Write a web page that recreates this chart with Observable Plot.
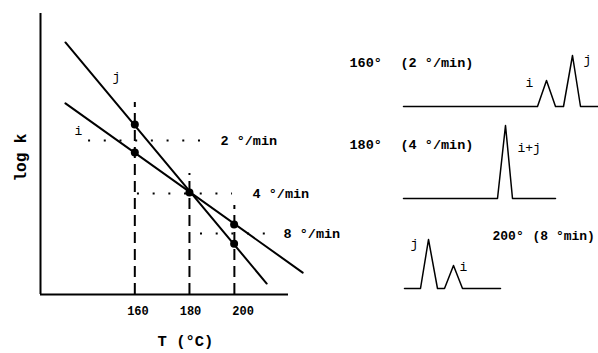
<!DOCTYPE html>
<html><head><meta charset="utf-8">
<script src="https://cdn.jsdelivr.net/npm/d3@7"></script>
<script src="https://cdn.jsdelivr.net/npm/@observablehq/plot@0.6"></script>
<style>
body{margin:0;background:#fff}
#wrap{position:relative;width:598px;height:353px;overflow:hidden;background:#fff}
#wrap svg{position:absolute;overflow:visible}
</style>
</head><body><div id="wrap"></div>
<script>
// ---------- data ----------
const xTicks = [160, 180, 200];
const xDomain = [122.9, 217.3];
const yDomain = [0, 10];

const lineJ = [{T: 132.4, logk: 8.97}, {T: 209.0, logk: 0.39}];
const lineI = [{T: 132.4, logk: 6.80}, {T: 222.7, logk: 0.78}];

const points = [
  {T: 158.8, logk: 6.05}, {T: 158.8, logk: 5.05},
  {T: 179.6, logk: 3.63},
  {T: 196.6, logk: 2.49}, {T: 196.6, logk: 1.81}
];
const dashedT = [158.8, 179.6, 196.7];
const dashedTop = [6.83, 4.31, 3.17];

const rateLevels = [5.48, 3.59, 2.17];
const rateStart = [141.2, 159.8, 183.8];
const rateEnd = [187.6, 196.0, 212.3];
const rateLabelT = [191.4, 203.6, 215.4];
const rateLabels = ["2 °/min", "4 °/min", "8 °/min"];

const curveLabels = [{T: 151.8, logk: 7.76, text: "j"}, {T: 137.3, logk: 5.84, text: "i"}];
const yTitle = [{logk: 4.02, text: "log k"}];
const xTitle = [{T: 178.1, text: "T (°C)"}];

// chromatograms: t = retention (arbitrary), s = signal
const chrom160 = {
  t: [6.3, 19.7, 20.6, 21.5, 22.3, 23.2, 24.0, 25.8],
  s: [0, 0, 2.6, 0, 0, 5.1, 0, 0]
};
const chrom180 = {
  t: [6.3, 15.7, 16.5, 17.2, 21.5],
  s: [0, 0, 7.3, 0, 0]
};
const chrom200 = {
  t: [6.4, 8.0, 8.8, 9.7, 10.4, 11.3, 12.2, 16.0],
  s: [0, 0, 4.9, 0, 0, 2.3, 0, 0]
};
const chromTitles160 = [{t: 0.9, s: 4.4, text: "160°"}, {t: 6.0, s: 4.4, text: "(2 °/min)"}];
const chromTitles180 = [{t: 0.9, s: 5.4, text: "180°"}, {t: 6.0, s: 5.4, text: "(4 °/min)"}];
const chromTitles200 = [{t: 15.2, s: 5.3, text: "200°"}, {t: 19.2, s: 5.3, text: "(8 °min)"}];
const peakLabels160 = [{t: 18.9, s: 2.4, text: "i"}, {t: 24.7, s: 4.7, text: "j"}];
const peakLabels180 = [{t: 18.1, s: 5.1, text: "i+j"}];
const peakLabels200 = [{t: 7.4, s: 4.5, text: "j"}, {t: 12.3, s: 2.2, text: "i"}];

// ---------- drawing ----------
const font = "'Liberation Mono', 'Courier New', monospace";
const wrap = document.getElementById("wrap");

const dashed = dashedT.map((T, k) => ({T, top: dashedTop[k]}));
const rates = rateLevels.map((v, k) => ({logk: v, T1: rateStart[k], T2: rateEnd[k], TL: rateLabelT[k], text: rateLabels[k]}));

const main = Plot.plot({
  width: 598, height: 353,
  marginLeft: 40, marginRight: 310, marginTop: 13, marginBottom: 59,
  style: {fontFamily: font, fontWeight: "bold", fontSize: "12px", background: "transparent", color: "black"},
  x: {domain: xDomain},
  y: {domain: yDomain, axis: null},
  marks: [
    Plot.ruleY([yDomain[0]], {stroke: "black", strokeWidth: 2}),
    Plot.ruleX([xDomain[0]], {stroke: "black", strokeWidth: 2}),
    Plot.axisX(xTicks, {tickSize: 0, tickPadding: 12, fontSize: 12, fontWeight: "bold", label: null}),
    Plot.ruleX(dashed, {x: "T", y1: yDomain[0], y2: "top", stroke: "black", strokeWidth: 2, strokeDasharray: "11,6"}),
    Plot.ruleY(rates, {y: "logk", x1: "T1", x2: "T2", stroke: "black", strokeWidth: 2, strokeDasharray: "2,13.7"}),
    Plot.line(lineJ, {x: "T", y: "logk", stroke: "black", strokeWidth: 2}),
    Plot.line(lineI, {x: "T", y: "logk", stroke: "black", strokeWidth: 2}),
    Plot.dot(points, {x: "T", y: "logk", r: 4, fill: "black"}),
    Plot.text(rates, {x: "TL", y: "logk", text: "text", textAnchor: "start", fontSize: 13.5, fontWeight: "bold"}),
    Plot.text(curveLabels, {x: "T", y: "logk", text: "text", fontSize: 13, fontWeight: "normal"}),
    Plot.text(yTitle, {y: "logk", text: "text", frameAnchor: "left", dx: -20, rotate: -90, fontSize: 16, fontWeight: "bold"}),
    Plot.text(xTitle, {x: "T", text: "text", frameAnchor: "bottom", dy: 51, fontSize: 15.5, fontWeight: "bold"})
  ]
});
main.style.left = "0px"; main.style.top = "0px";
wrap.appendChild(main);

function chrom(c, titles, peaks, top, titleSize) {
  const trace = c.t.map((t, k) => ({t, s: c.s[k]}));
  const svg = Plot.plot({
    width: 258, height: 105,
    marginLeft: 0, marginRight: 0, marginTop: 0, marginBottom: 5,
    style: {fontFamily: font, background: "transparent", color: "black"},
    x: {domain: [0, 25.8], axis: null},
    y: {domain: [0, 10], axis: null},
    marks: [
      Plot.line(trace, {x: "t", y: "s", stroke: "black", strokeWidth: 1.5}),
      Plot.text(titles, {x: "t", y: "s", text: "text", textAnchor: "start", fontSize: titleSize, fontWeight: "bold"}),
      Plot.text(peaks, {x: "t", y: "s", text: "text", textAnchor: "start", fontSize: 13, fontWeight: "normal", dx: -4})
    ]
  });
  svg.style.left = "340px"; svg.style.top = top + "px";
  wrap.appendChild(svg);
}
chrom(chrom160, chromTitles160, peakLabels160, 6, 13.5);
chrom(chrom180, chromTitles180, peakLabels180, 98, 13.5);
chrom(chrom200, chromTitles200, peakLabels200, 188, 13);
</script>
</body></html>
